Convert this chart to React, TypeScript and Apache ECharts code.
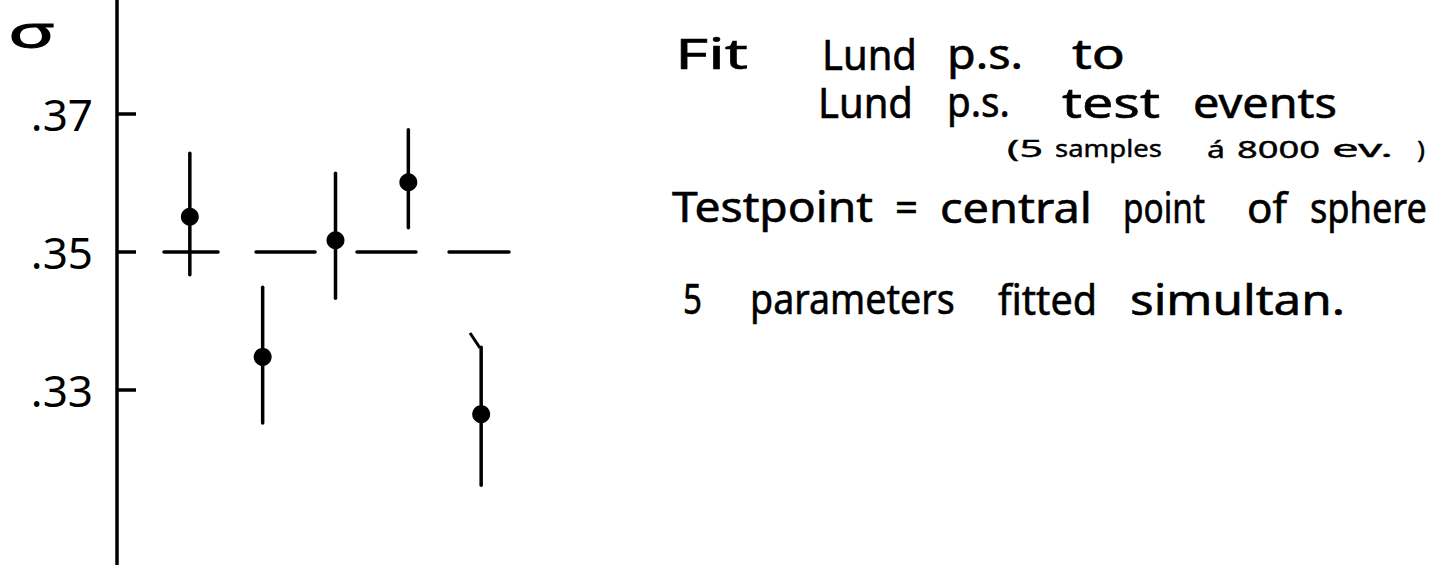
import React, { useEffect, useRef } from "react";
import * as echarts from "echarts";

// Five test samples: fitted sigma with its error range
const samples = [1, 2, 3, 4, 5];
const sigmaFit = [0.3551, 0.3348, 0.3517, 0.3601, 0.3265];
const sigmaHigh = [0.3643, 0.3449, 0.3614, 0.3677, 0.3362];
const sigmaLow = [0.3467, 0.3252, 0.3433, 0.3535, 0.3162];

// True (test point) value drawn as short dashes between the samples
const trueSigma = 0.35;
const trueSegments = [
  [0.645, 1.387],
  [1.909, 2.719],
  [3.295, 4.105],
  [4.559, 5.382],
];

// Small pen hook on top of the last error bar
const hook = [
  [4.847, 0.33826],
  [4.984, 0.33609],
];

const yTicks = [0.33, 0.35, 0.37];
const yTickLabels = [".33", ".35", ".37"];

const FONT = "'Noto Sans', 'DejaVu Sans', sans-serif";

// Notes beside the plot, word by word: [text, left, baseline, fontSize, width]
const notes: [string, number, number, number, number][] = [
  ["Fit", 675, 72, 42, 73],
  ["Lund", 822, 72, 42, 95],
  ["p.s.", 947, 72, 42, 76],
  ["to", 1072, 72, 42, 53],
  ["Lund", 818, 120, 42, 95],
  ["p.s.", 947, 120, 42, 63],
  ["test", 1062, 120, 42, 98],
  ["events", 1193, 120, 42, 144],
  ["(5", 1007, 159, 24, 36],
  ["samples", 1055, 159, 24, 107],
  ["á", 1207, 159, 24, 18],
  ["8000", 1237, 159, 24, 83],
  ["ev.", 1332, 159, 24, 61],
  [")", 1417, 159, 24, 8],
  ["Testpoint", 672, 225, 42, 201],
  ["=", 895, 225, 42, 23],
  ["central", 940, 225, 42, 152],
  ["point", 1123, 225, 42, 82],
  ["of", 1247, 225, 42, 40],
  ["sphere", 1310, 225, 42, 117],
  ["5", 683, 317, 42, 19],
  ["parameters", 750, 317, 42, 205],
  ["fitted", 998, 317, 42, 99],
  ["simultan.", 1130, 317, 42, 215],
];

function measure(text: string, font: string): number {
  const ctx = document.createElement("canvas").getContext("2d");
  if (!ctx) return text.length * 20;
  ctx.font = font;
  return ctx.measureText(text).width || 1;
}

export default function App() {
  const ref = useRef<HTMLDivElement>(null);

  useEffect(() => {
    if (!ref.current) return;
    const chart = echarts.init(ref.current, null, { renderer: "svg" });

    const errorData = samples.map((x, i) => [x, sigmaLow[i], sigmaHigh[i]]);
    const pointData = samples.map((x, i) => [x, sigmaFit[i]]);
    const segData = trueSegments.map((s) => [s[0], s[1], trueSigma]);

    const noteElements = notes.map(([t, x, base, fs, w]) => {
      const font = `normal ${fs}px ${FONT}`;
      const natural = measure(t, font);
      return {
        type: "text",
        x,
        y: base - 0.95 * fs,
        scaleX: w / natural,
        style: {
          text: t,
          font,
          fill: "#000",
          stroke: "#000",
          lineWidth: fs > 30 ? 0.6 : 0.4,
          textVerticalAlign: "top",
          textBaseline: "top",
          textAlign: "left",
        },
      };
    });

    const option: any = {
      animation: false,
      backgroundColor: "#ffffff",
      grid: { left: 117, right: 876, top: 0, bottom: 0, containLabel: false },
      xAxis: { type: "value", min: 0, max: 6, show: false },
      yAxis: {
        type: "value",
        min: 0.304638,
        max: 0.386522,
        axisLine: { show: true, lineStyle: { color: "#000", width: 3.5 } },
        axisTick: {
          show: true,
          inside: true,
          length: 19,
          customValues: yTicks,
          lineStyle: { color: "#000", width: 3.5 },
        },
        axisLabel: {
          show: true,
          customValues: yTicks,
          margin: 24,
          color: "#000",
          fontFamily: FONT,
          fontSize: 44,
          formatter: (v: number) => {
            const idx = yTicks.findIndex((t) => Math.abs(t - v) < 1e-6);
            return idx >= 0 ? yTickLabels[idx] : "";
          },
        },
        splitLine: { show: false },
      },
      series: [
        {
          type: "custom",
          name: "true value",
          data: segData,
          renderItem: (params: any, api: any) => {
            const a = api.coord([api.value(0), api.value(2)]);
            const b = api.coord([api.value(1), api.value(2)]);
            return {
              type: "line",
              shape: { x1: a[0], y1: a[1], x2: b[0], y2: b[1] },
              style: { stroke: "#000", lineWidth: 3.5, lineCap: "round" },
            };
          },
        },
        {
          type: "custom",
          name: "error",
          data: errorData,
          renderItem: (params: any, api: any) => {
            const lo = api.coord([api.value(0), api.value(1)]);
            const hi = api.coord([api.value(0), api.value(2)]);
            return {
              type: "line",
              shape: { x1: lo[0], y1: lo[1], x2: hi[0], y2: hi[1] },
              style: { stroke: "#000", lineWidth: 3.5, lineCap: "round" },
            };
          },
        },
        {
          type: "line",
          name: "hook",
          data: hook,
          symbol: "none",
          lineStyle: { color: "#000", width: 3 },
        },
        {
          type: "scatter",
          name: "fit",
          data: pointData,
          symbol: "circle",
          symbolSize: 18,
          itemStyle: { color: "#000", opacity: 1 },
        },
      ],
      graphic: [
        {
          type: "text",
          x: 8,
          y: 9,
          scaleX: 1.75,
          style: {
            text: "σ",
            font: `normal 44px ${FONT}`,
            fill: "#000",
            stroke: "#000",
            lineWidth: 1,
            textBaseline: "top",
            textVerticalAlign: "top",
          },
        },
        ...noteElements,
      ],
    };

    chart.setOption(option);
    return () => chart.dispose();
  }, []);

  return (
    <div
      ref={ref}
      style={{ position: "absolute", left: 0, top: 0, width: 1430, height: 565, background: "#fff" }}
    />
  );
}
